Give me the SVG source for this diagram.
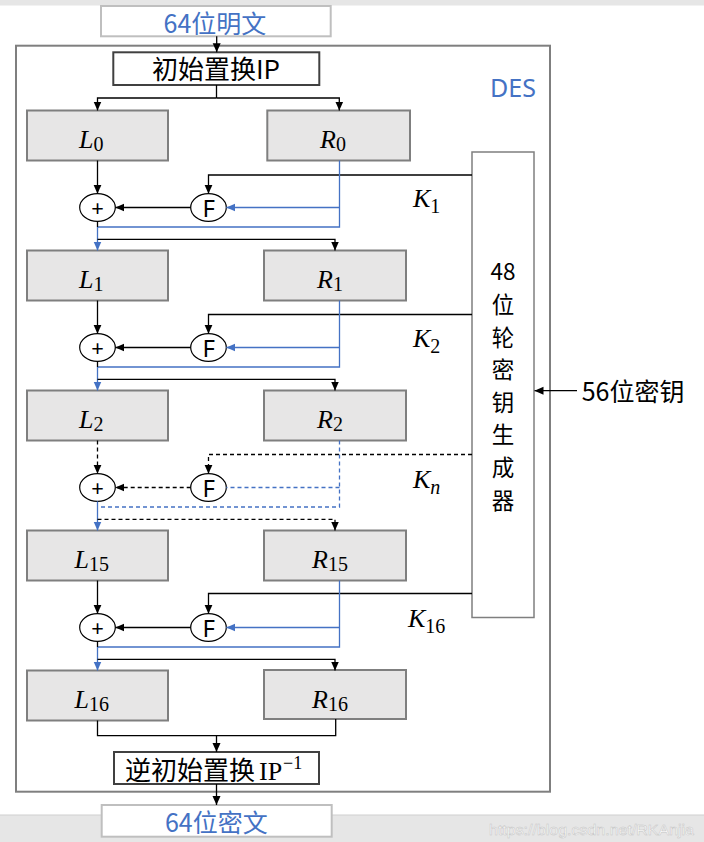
<svg xmlns="http://www.w3.org/2000/svg" width="704" height="842" viewBox="0 0 704 842">
<defs>
<style>
.box{fill:#e7e6e6;stroke:#7f7f7f;stroke-width:2}
.ln{fill:none;stroke:#000;stroke-width:1.3}
.bl{fill:none;stroke:#4472c4;stroke-width:1.3}
.dash{stroke-dasharray:4 3}
.circ{fill:#fff;stroke:#000;stroke-width:1.2}
.math{font-family:"Liberation Serif",serif;font-style:italic;font-size:26px;fill:#000}
.sub{font-style:normal;font-size:20px}
.subi{font-style:italic;font-size:20px}
.cjk{font-family:"Noto Sans CJK SC","Noto Sans",sans-serif;fill:#000}
.sym{font-family:"Noto Sans","DejaVu Sans",sans-serif;fill:#000;text-anchor:middle}
.blue{fill:#4472c4}
.aa{marker-end:url(#ab)}
.au{marker-end:url(#au)}
</style>
<marker id="ab" markerUnits="userSpaceOnUse" markerWidth="9" markerHeight="9" viewBox="0 0 9 9" refX="9" refY="4.5" orient="auto"><path d="M0,0.5 L9,4.5 L0,8.5z" fill="#000"/></marker>
<marker id="au" markerUnits="userSpaceOnUse" markerWidth="9" markerHeight="9" viewBox="0 0 9 9" refX="9" refY="4.5" orient="auto"><path d="M0,0.5 L9,4.5 L0,8.5z" fill="#4472c4"/></marker>
</defs>
<rect width="704" height="842" fill="#fff"/>
<rect x="0" y="0" width="704" height="5.5" fill="#e6e6e6"/>
<rect x="0" y="815" width="704" height="27" fill="#e6e6e6"/>
<line x1="0" y1="815" x2="704" y2="815" stroke="#cfcfcf" stroke-width="1"/>
<text x="489" y="835" font-family="Liberation Sans,sans-serif" font-size="15" fill="#ffffff" stroke="#c4c4c4" stroke-width="0.5" textLength="205" lengthAdjust="spacingAndGlyphs">https://blog.csdn.net/RKAnjia</text>

<g id="des-frame">
<rect x="16" y="45.7" width="534" height="746" fill="none" stroke="#7f7f7f" stroke-width="2"/>
<text x="490" y="96.7" font-family="Noto Sans,sans-serif" font-size="25" class="blue">DES</text>
</g>

<g id="plaintext">
<rect x="101" y="6" width="229.7" height="30.3" fill="#fff" stroke="#bfbfbf" stroke-width="2"/>
<text x="215" y="32.5" class="cjk blue" font-size="25" text-anchor="middle">64位明文</text>
</g>

<g id="ip">
<rect x="113.3" y="52.3" width="206" height="32.7" fill="#fff" stroke="#404040" stroke-width="2"/>
<text x="216" y="79" class="cjk" font-size="26" text-anchor="middle">初始置换IP</text>
</g>

<g id="L0"><rect class="box" x="27" y="110.5" width="141" height="50"/><text class="math" x="79" y="147.7">L<tspan class="sub" y="150.5">0</tspan></text></g>
<g id="R0"><rect class="box" x="267.3" y="110.5" width="142.7" height="50"/><text class="math" x="320" y="147.7">R<tspan class="sub" y="150.5">0</tspan></text></g>
<g id="L1"><rect class="box" x="27" y="250.5" width="141" height="50"/><text class="math" x="79" y="287.7">L<tspan class="sub" y="290.5">1</tspan></text></g>
<g id="R1"><rect class="box" x="264" y="250.5" width="142" height="50"/><text class="math" x="317" y="287.7">R<tspan class="sub" y="290.5">1</tspan></text></g>
<g id="L2"><rect class="box" x="27" y="390.5" width="141" height="50"/><text class="math" x="79" y="427.7">L<tspan class="sub" y="430.5">2</tspan></text></g>
<g id="R2"><rect class="box" x="264" y="390.5" width="142" height="50"/><text class="math" x="317" y="427.7">R<tspan class="sub" y="430.5">2</tspan></text></g>
<g id="L15"><rect class="box" x="27" y="530.5" width="141" height="50"/><text class="math" x="74.5" y="567.7">L<tspan class="sub" y="570.5">15</tspan></text></g>
<g id="R15"><rect class="box" x="264" y="530.5" width="142" height="50"/><text class="math" x="312" y="567.7">R<tspan class="sub" y="570.5">15</tspan></text></g>
<g id="L16"><rect class="box" x="27" y="670.5" width="141" height="50"/><text class="math" x="74.5" y="707.7">L<tspan class="sub" y="710.5">16</tspan></text></g>
<g id="R16"><rect class="box" x="264" y="670" width="142" height="49"/><text class="math" x="312" y="707.7">R<tspan class="sub" y="710.5">16</tspan></text></g>

<g id="keygen">
<rect x="472" y="152" width="62" height="465.5" fill="#fff" stroke="#7f7f7f" stroke-width="1.5"/>
<text class="cjk" font-size="22.5" text-anchor="middle"><tspan x="503" y="280">48</tspan><tspan x="503" y="313">位</tspan><tspan x="503" y="345.6">轮</tspan><tspan x="503" y="378.2">密</tspan><tspan x="503" y="410.8">钥</tspan><tspan x="503" y="443.4">生</tspan><tspan x="503" y="476">成</tspan><tspan x="503" y="508.6">器</tspan></text>
</g>

<g id="key-input">
<text x="581.7" y="401" class="cjk" font-size="25">56位密钥</text>
</g>

<g id="xor1"><ellipse class="circ" cx="97.5" cy="207.5" rx="17.8" ry="13.8"/><text class="sym" x="97.5" y="216" font-size="22">+</text></g>
<g id="f1"><ellipse class="circ" cx="208.5" cy="207.5" rx="17.8" ry="13.8"/><text class="sym" x="208.8" y="216.5" font-size="24">F</text></g>
<g id="xor2"><ellipse class="circ" cx="97.5" cy="347.5" rx="17.8" ry="13.8"/><text class="sym" x="97.5" y="356" font-size="22">+</text></g>
<g id="f2"><ellipse class="circ" cx="208.5" cy="347.5" rx="17.8" ry="13.8"/><text class="sym" x="208.8" y="356.5" font-size="24">F</text></g>
<g id="xorn"><ellipse class="circ" cx="97.5" cy="487.5" rx="17.8" ry="13.8"/><text class="sym" x="97.5" y="496" font-size="22">+</text></g>
<g id="fn"><ellipse class="circ" cx="208.5" cy="487.5" rx="17.8" ry="13.8"/><text class="sym" x="208.8" y="496.5" font-size="24">F</text></g>
<g id="xor16"><ellipse class="circ" cx="97.5" cy="627.5" rx="17.8" ry="13.8"/><text class="sym" x="97.5" y="636" font-size="22">+</text></g>
<g id="f16"><ellipse class="circ" cx="208.5" cy="627.5" rx="17.8" ry="13.8"/><text class="sym" x="208.8" y="636.5" font-size="24">F</text></g>

<g id="ip-inv">
<rect x="114" y="752" width="205" height="32" fill="#fff" stroke="#404040" stroke-width="2"/>
<text y="780" font-size="26"><tspan x="125" class="cjk">逆初始置换</tspan><tspan x="259" font-family="Liberation Serif,serif">IP</tspan><tspan x="283" y="769" font-size="18" font-family="Liberation Serif,serif">−1</tspan></text>
</g>

<g id="ciphertext">
<rect x="101.7" y="805" width="230" height="31.7" fill="#fff" stroke="#bfbfbf" stroke-width="2"/>
<text x="216.3" y="832" class="cjk blue" font-size="25" text-anchor="middle">64位密文</text>
</g>

<g id="key-labels" class="math">
<text x="413" y="206.7">K<tspan class="sub" y="213">1</tspan></text>
<text x="413" y="346.7">K<tspan class="sub" y="353">2</tspan></text>
<text x="413" y="487.7">K<tspan class="subi" y="494">n</tspan></text>
<text x="408" y="626.7">K<tspan class="sub" y="633">16</tspan></text>
</g>

<g id="connectors">
<path class="ln aa" d="M216.7,36.3 V52.3"/>
<path class="ln" d="M216.5,85 V98"/>
<path class="ln aa" d="M216.5,98 H97.5 V110.5"/>
<path class="ln aa" d="M216.5,98 H339.3 V110.5"/>
<path class="ln aa" d="M577,390.7 H534.5"/>

<path class="ln aa" d="M97.5,160.5 V193.7"/>
<path class="ln aa" d="M472,175 H208.5 V193.7"/>
<path class="ln aa" d="M190.7,207.5 H115.3"/>
<path class="bl" d="M339.5,160.5 V227 H97.5"/>
<path class="bl au" d="M339.5,207.5 H226.3"/>
<path class="ln" d="M97.5,221.3 V227"/>
<path class="bl au" d="M97.5,227 V250.5"/>
<path class="ln aa" d="M97.5,239.3 H335 V250.5"/>

<path class="ln aa" d="M97.5,300.5 V333.7"/>
<path class="ln aa" d="M472,314.5 H208.5 V333.7"/>
<path class="ln aa" d="M190.7,347.5 H115.3"/>
<path class="bl" d="M339.5,300.5 V367 H97.5"/>
<path class="bl au" d="M339.5,347.5 H226.3"/>
<path class="ln" d="M97.5,361.3 V367"/>
<path class="bl au" d="M97.5,367 V390.5"/>
<path class="ln aa" d="M97.5,379.3 H335 V390.5"/>

<path class="ln dash aa" d="M97.5,440.5 V473.7"/>
<path class="ln dash aa" d="M472,454.5 H208.5 V473.7"/>
<path class="ln dash aa" d="M190.7,487.5 H115.3"/>
<path class="bl dash" d="M339.5,440.5 V507 H97.5"/>
<path class="bl dash" d="M339.5,487.5 H226.3"/>
<path class="bl" d="M97.5,501.3 V507"/>
<path class="bl au" d="M97.5,507 V530.5"/>
<path class="ln dash aa" d="M97.5,519.3 H335 V530.5"/>

<path class="ln aa" d="M97.5,580.5 V613.7"/>
<path class="ln aa" d="M472,593.5 H208.5 V613.7"/>
<path class="ln aa" d="M190.7,627.5 H115.3"/>
<path class="bl" d="M339.5,580.5 V647 H97.5"/>
<path class="bl au" d="M339.5,627.5 H226.3"/>
<path class="ln" d="M97.5,641.3 V647"/>
<path class="bl au" d="M97.5,647 V670.5"/>
<path class="ln aa" d="M97.5,659.3 H335 V670.5"/>

<path class="ln" d="M97.5,720.5 V735.7 H335.7 V719"/>
<path class="ln aa" d="M216.5,735.7 V752"/>
<path class="ln aa" d="M216.5,784 V805"/>
</g>
</svg>
